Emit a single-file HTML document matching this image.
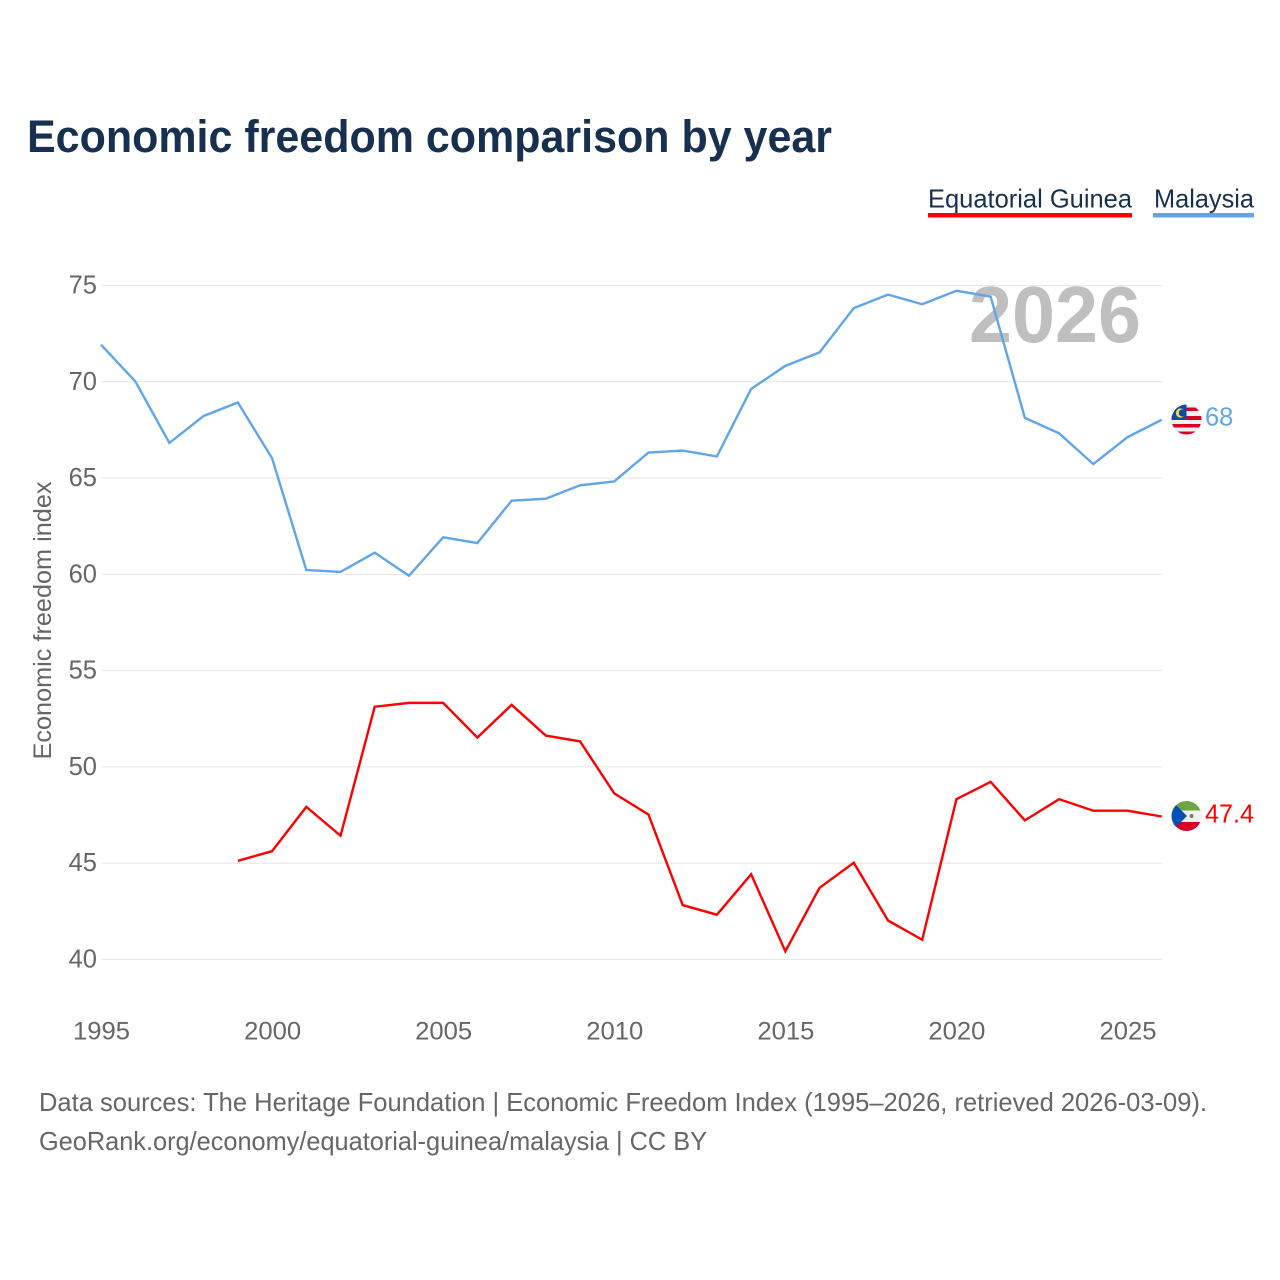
<!DOCTYPE html>
<html lang="en">
<head>
<meta charset="utf-8">
<title>Economic freedom comparison by year</title>
<style>
html,body{margin:0;padding:0;background:#fff;}
svg{display:block;font-family:"Liberation Sans",sans-serif;}
</style>
</head>
<body>
<svg id="chart" width="1280" height="1280" viewBox="0 0 1280 1280" xmlns="http://www.w3.org/2000/svg">
  <rect width="1280" height="1280" fill="#ffffff"/>
  <text x="27" y="152" font-size="45" font-weight="bold" fill="#18304f" textLength="805" lengthAdjust="spacingAndGlyphs">Economic freedom comparison by year</text>

  <g>
    <text x="928" y="207.5" font-size="26" fill="#18304f" textLength="204" lengthAdjust="spacingAndGlyphs">Equatorial Guinea</text>
    <rect x="928" y="213" width="204" height="4.5" fill="#ff0000"/>
  </g>
  <g>
    <text x="1154" y="207.5" font-size="26" fill="#18304f" textLength="100" lengthAdjust="spacingAndGlyphs">Malaysia</text>
    <rect x="1153" y="213" width="101" height="4.5" fill="#60a5ea"/>
  </g>

  <g id="grid"></g>
  <g id="yticks"></g>
  <g id="xticks"></g>
  <text transform="translate(51 620.5) rotate(-90)" text-anchor="middle" font-size="25" fill="#666666" textLength="278" lengthAdjust="spacingAndGlyphs">Economic freedom index</text>

  <text id="year-watermark" x="1141" y="342" text-anchor="end" font-size="80" font-weight="bold" fill="#bfbfbf" textLength="172" lengthAdjust="spacingAndGlyphs">2026</text>

  <g id="series"></g>

  <defs>
    <clipPath id="flag-my-clip"><circle cx="1186.5" cy="419.5" r="15"/></clipPath>
    <clipPath id="flag-gq-clip"><circle cx="1186.5" cy="816" r="15"/></clipPath>
  </defs>

  <circle cx="1186.5" cy="419.5" r="16.5" fill="#ffffff"/>
  <g clip-path="url(#flag-my-clip)">
    <rect x="1171" y="404" width="31" height="31" fill="#f0f0f0"/>
    <rect x="1171" y="407.5" width="31" height="3.5" fill="#d80027"/>
    <rect x="1171" y="416" width="31" height="4" fill="#d80027"/>
    <rect x="1171" y="424" width="31" height="3.5" fill="#d80027"/>
    <rect x="1171" y="431.5" width="31" height="4" fill="#d80027"/>
    <rect x="1171" y="404" width="15.5" height="15" fill="#0b4ea2"/>
    <circle cx="1180.5" cy="413" r="4.6" fill="#ffda44"/>
    <circle cx="1182.3" cy="413" r="3.6" fill="#0b4ea2"/>
  </g>

  <circle cx="1186.5" cy="816" r="16.5" fill="#ffffff"/>
  <g clip-path="url(#flag-gq-clip)">
    <rect x="1171" y="800" width="31" height="10.5" fill="#6da544"/>
    <rect x="1171" y="810.5" width="31" height="11.5" fill="#f0f0f0"/>
    <rect x="1171" y="822" width="31" height="10" fill="#d80027"/>
    <polygon points="1171,800 1187,816 1171,832" fill="#0052b4"/>
    <circle cx="1191.5" cy="816" r="2" fill="#6d8a50"/>
  </g>

  <text id="label-my" x="1205" y="425.5" font-size="25.5" fill="#60a5ea">68</text>
  <text id="label-gq" x="1205" y="822.5" font-size="25.5" fill="#ff0000" textLength="49" lengthAdjust="spacingAndGlyphs">47.4</text>

  <text x="39" y="1111" font-size="26" fill="#666666" textLength="1168" lengthAdjust="spacingAndGlyphs">Data sources: The Heritage Foundation | Economic Freedom Index (1995–2026, retrieved 2026-03-09).</text>
  <text x="39" y="1150" font-size="26" fill="#666666" textLength="668" lengthAdjust="spacingAndGlyphs">GeoRank.org/economy/equatorial-guinea/malaysia | CC BY</text>
</svg>
<script>
const years = [1995,1996,1997,1998,1999,2000,2001,2002,2003,2004,2005,2006,2007,2008,2009,2010,2011,2012,2013,2014,2015,2016,2017,2018,2019,2020,2021,2022,2023,2024,2025,2026];
const malaysiaValues = [71.9,70.0,66.8,68.2,68.9,66.0,60.2,60.1,61.1,59.9,61.9,61.6,63.8,63.9,64.6,64.8,66.3,66.4,66.1,69.6,70.8,71.5,73.8,74.5,74.0,74.7,74.4,68.1,67.3,65.7,67.1,68.0];
const equatorialGuineaValues = [null,null,null,null,45.1,45.6,47.9,46.4,53.1,53.3,53.3,51.5,53.2,51.6,51.3,48.6,47.5,42.8,42.3,44.4,40.4,43.7,45.0,42.0,41.0,48.3,49.2,47.2,48.3,47.7,47.7,47.4];
const yTickValues = [40,45,50,55,60,65,70,75];
const xTickYears = [1995,2000,2005,2010,2015,2020,2025];

const NS = 'http://www.w3.org/2000/svg';
const xScale = function (year) { return 101.5 + (year - 1995) * (1128 - 101.5) / 30; };
const yScale = function (v) { return 959.5 - (v - 40) * (959.5 - 285.5) / 35; };

function make(tag, parent) {
  const el = document.createElementNS(NS, tag);
  parent.appendChild(el);
  return el;
}

const grid = document.getElementById('grid');
const yticks = document.getElementById('yticks');
const xticks = document.getElementById('xticks');
const series = document.getElementById('series');

yTickValues.forEach(function (v) {
  const line = make('line', grid);
  
  
  line.setAttribute('x1', xScale(1995));
  line.setAttribute('x2', xScale(2026));
  line.setAttribute('y1', yScale(v));
  line.setAttribute('y2', yScale(v));
  line.setAttribute('stroke', '#e6e6e6');
  line.setAttribute('stroke-width', '1');

  const label = make('text', yticks);
  
  
  label.setAttribute('x', 97);
  label.setAttribute('y', yScale(v) + 8);
  label.setAttribute('text-anchor', 'end');
  label.setAttribute('font-size', '25.5');
  label.setAttribute('fill', '#666666');
  label.textContent = v;
});

xTickYears.forEach(function (year) {
  const label = make('text', xticks);
  
  
  label.setAttribute('x', xScale(year));
  label.setAttribute('y', 1039.5);
  label.setAttribute('text-anchor', 'middle');
  label.setAttribute('font-size', '25');
  label.setAttribute('fill', '#666666');
  label.setAttribute('textLength', '57');
  label.setAttribute('lengthAdjust', 'spacingAndGlyphs');
  label.textContent = year;
});

function pathFor(values) {
  let d = '';
  values.forEach(function (v, i) {
    if (v === null) { return; }
    d += (d ? 'L' : 'M') + (xScale(years[i]) - 0.5).toFixed(2) + ' ' + (yScale(v) - 0.5).toFixed(2);
  });
  return d;
}

const gqLine = make('path', series);


gqLine.setAttribute('d', pathFor(equatorialGuineaValues));
gqLine.setAttribute('fill', 'none');
gqLine.setAttribute('stroke', '#ff0000');
gqLine.setAttribute('stroke-width', '2.4');

const myLine = make('path', series);


myLine.setAttribute('d', pathFor(malaysiaValues));
myLine.setAttribute('fill', 'none');
myLine.setAttribute('stroke', '#60a5ea');
myLine.setAttribute('stroke-width', '2.4');
</script>
</body>
</html>
